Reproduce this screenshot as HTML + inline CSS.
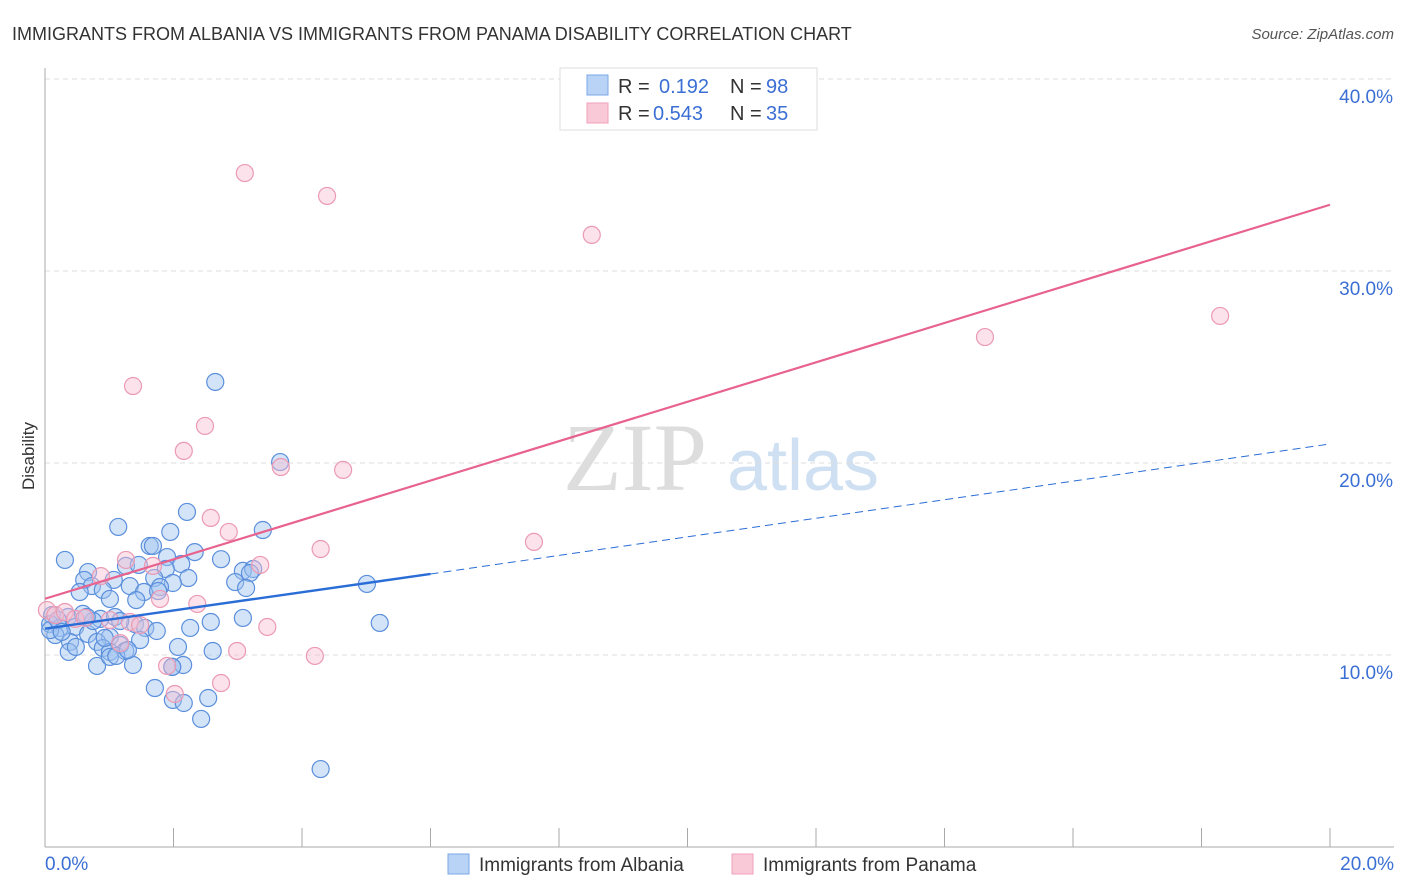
<!DOCTYPE html>
<html><head><meta charset="utf-8"><style>
body{margin:0;background:#fff;font-family:"Liberation Sans",sans-serif;}
svg{display:block}
</style></head><body>
<svg id="chart" width="1406" height="892" xmlns="http://www.w3.org/2000/svg">
<text x="12" y="40" font-size="18" fill="#333">IMMIGRANTS FROM ALBANIA VS IMMIGRANTS FROM PANAMA DISABILITY CORRELATION CHART</text>
<text x="1394" y="39" font-size="15" fill="#555" font-style="italic" text-anchor="end">Source: ZipAtlas.com</text>
<g>
<text x="635" y="490" font-size="96" fill="#ddd" font-family="Liberation Serif,serif" text-anchor="middle">ZIP</text>
<text x="803" y="490" font-size="72" fill="#cfe0f3" text-anchor="middle">atlas</text>
</g>
<g id="grid"></g>
<g id="axes"></g>
<g id="points"></g>
<g id="lines"></g>
<text transform="translate(34,456) rotate(-90)" font-size="17" fill="#333" text-anchor="middle">Disability</text>
<g>
<rect x="560" y="68" width="257" height="62" fill="#fff" stroke="#ddd"/>
<rect x="587" y="75" width="21" height="20" fill="#b8d3f5" stroke="#7aa7e6"/>
<rect x="587" y="103" width="21" height="20" fill="#fac9d8" stroke="#f0a0ba"/>
<text x="618" y="93" font-size="20" fill="#333">R =</text><text x="659" y="93" font-size="20" fill="#3b6fd4">0.192</text>
<text x="730" y="93" font-size="20" fill="#333">N =</text><text x="766" y="93" font-size="20" fill="#3b6fd4">98</text>
<text x="618" y="120" font-size="20" fill="#333">R =</text><text x="653" y="120" font-size="20" fill="#3b6fd4">0.543</text>
<text x="730" y="120" font-size="20" fill="#333">N =</text><text x="766" y="120" font-size="20" fill="#3b6fd4">35</text>
</g>
<g>
<rect x="448" y="854" width="21" height="20" fill="#b8d3f5" stroke="#7aa7e6"/>
<text x="479" y="871" font-size="19" fill="#333">Immigrants from Albania</text>
</g>
<g>
<rect x="732" y="854" width="21" height="20" fill="#fac9d8" stroke="#f0a0ba"/>
<text x="763" y="871" font-size="19" fill="#333">Immigrants from Panama</text>
</g>
</svg>
<script>
const yTicks=[10,20,30,40];
const yTickLabels=["10.0%","20.0%","30.0%","40.0%"];
const xTickLabels=["0.0%","20.0%"];
const blueX=[2.65,3.66,1.14,2.21,3.39,1.95,0.31,1.63,1.68,2.33,1.9,2.74,0.67,1.26,1.46,2.12,1.88,2.23,3.08,3.24,3.19,5.01,0.61,1.07,1.7,1.99,2.96,3.13,0.73,0.9,1.32,1.54,1.79,1.76,0.54,1.01,1.42,0.11,0.36,0.59,0.86,1.09,1.4,1.56,1.74,2.26,2.58,3.08,5.21,0.08,0.23,0.47,0.67,1.01,0.16,0.39,0.81,1.17,1.48,2.07,0.9,1.25,1.01,0.37,0.48,0.81,1.37,1.98,2.15,2.61,1.71,1.99,2.16,2.54,2.43,4.29,1.01,0.08,0.2,0.26,0.75,1.17,0.93,1.11,1.29,1.98,0.65];
const blueY=[24.22,20.05,16.67,17.45,16.51,16.41,14.95,15.68,15.68,15.36,15.1,14.99,14.32,14.64,14.69,14.74,14.48,14.01,14.38,14.48,14.27,13.7,13.91,13.91,14.01,13.75,13.8,13.49,13.59,13.39,13.59,13.28,13.54,13.33,13.28,12.92,12.86,12.08,11.98,12.14,11.88,11.98,11.61,11.41,11.25,11.41,11.72,11.93,11.67,11.61,11.41,11.46,11.09,10.94,11.04,10.68,10.68,10.52,10.78,10.42,10.36,10.21,10.16,10.16,10.42,9.43,9.48,9.38,9.48,10.21,8.28,7.66,7.5,7.76,6.67,4.06,9.9,11.3,11.82,11.2,11.77,11.77,10.89,9.95,10.26,9.38,11.98];
const pinkX=[3.11,4.39,8.51,14.63,18.29,1.37,2.49,2.16,3.67,4.64,2.58,2.86,4.29,7.61,1.26,1.68,3.35,0.87,2.37,3.46,2.99,4.2,1.9,2.74,2.02,0.03,0.16,0.31,0.47,0.62,1.01,1.32,1.48,1.79,1.17];
const pinkY=[35.1,33.91,31.88,26.56,27.66,24.01,21.93,20.63,19.79,19.64,17.14,16.41,15.52,15.89,14.95,14.64,14.69,14.11,12.66,11.46,10.21,9.95,9.43,8.54,7.97,12.34,12.08,12.24,11.88,11.93,11.82,11.72,11.56,12.92,10.62];
const pinkTrend=[12.93,33.45];   // y at x=0% and x=20%
const blueTrendX=[0,6,20];
const blueTrendY=[11.37,14.22,20.99];
const X=v=>45+v*64.25, Y=v=>847-v*19.2;
const NS="http://www.w3.org/2000/svg";
function mk(tag,attrs,parent){const e=document.createElementNS(NS,tag);for(const k in attrs)e.setAttribute(k,attrs[k]);parent.appendChild(e);return e;}
const grid=document.getElementById('grid'),axes=document.getElementById('axes');
yTicks.forEach((t,i)=>{
 const g=mk('line',{x1:45,x2:1394,y1:Y(t),y2:Y(t),stroke:'#ddd','stroke-dasharray':'5,4'},grid);
 
 
 const l=mk('text',{x:1393,y:Y(t)+24,'font-size':19,fill:'#3b6fd4','text-anchor':'end'},axes);
 l.textContent=yTickLabels[i];
 
 
});
const ax=mk('line',{x1:45,x2:45,y1:68,y2:847,stroke:'#aaa'},axes);


const bx=mk('line',{x1:45,x2:1394,y1:847,y2:847,stroke:'#aaa'},axes);


for(let i=1;i<=10;i++){const t=mk('line',{x1:X(i*2),x2:X(i*2),y1:828,y2:847,stroke:'#aaa'},axes);
 
 }
[[0,45,'start'],[20,1394,'end']].forEach((d,i)=>{const l=mk('text',{x:d[1],y:870,'font-size':19,fill:'#3b6fd4','text-anchor':d[2]},axes);
 l.textContent=xTickLabels[i];
 
 });
const pts=document.getElementById('points');
blueX.forEach((x,i)=>{const c=mk('circle',{cx:X(x),cy:Y(blueY[i]),r:8.5,fill:'rgba(160,196,240,0.45)',stroke:'#5b8fdc','stroke-width':1.2},pts);
 
 });
pinkX.forEach((x,i)=>{const c=mk('circle',{cx:X(x),cy:Y(pinkY[i]),r:8.5,fill:'rgba(248,190,208,0.45)',stroke:'#eb9ab4','stroke-width':1.2},pts);
 
 });
const ln=document.getElementById('lines');
const pl=mk('line',{x1:X(0),y1:Y(pinkTrend[0]),x2:X(20),y2:Y(pinkTrend[1]),stroke:'#e8628e','stroke-width':2.2},ln);


const bl=mk('line',{x1:X(blueTrendX[0]),y1:Y(blueTrendY[0]),x2:X(blueTrendX[1]),y2:Y(blueTrendY[1]),stroke:'#2a6dd6','stroke-width':2.4},ln);


const bd=mk('line',{x1:X(blueTrendX[1]),y1:Y(blueTrendY[1]),x2:X(blueTrendX[2]),y2:Y(blueTrendY[2]),stroke:'#2a6dd6','stroke-width':1,'stroke-dasharray':'8,5'},ln);


</script>
</body></html>
